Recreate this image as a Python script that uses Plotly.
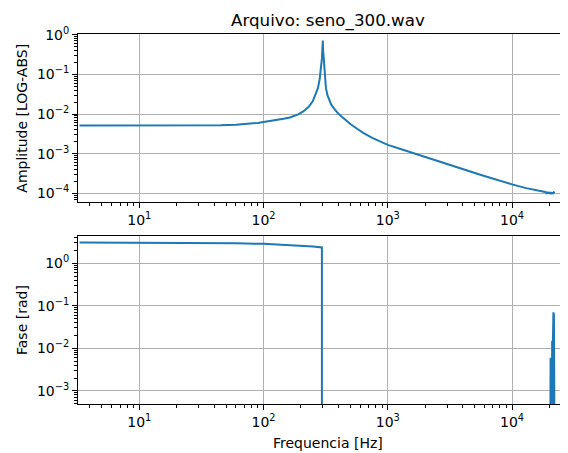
import plotly.graph_objects as go

# ---------------- data ----------------
freq_amp = [3.3, 6, 10, 20, 30, 45, 60, 75, 90, 100, 115, 130, 145, 163, 190, 209, 230, 249,
            262, 274, 283, 291, 295, 298, 300, 302, 305, 309, 313, 318, 327, 339, 350, 365,
            380, 396, 420, 440, 470, 500, 570, 640, 750, 870, 1000, 1250, 1625, 2200, 3020,
            4000, 5640, 7500, 10000, 13000, 16500, 18500, 19000, 19300, 19600, 19900, 20200,
            20500, 20800, 21100, 21400, 21700, 22050]
amplitude = [5.1e-3, 5.1e-3, 5.1e-3, 5.12e-3, 5.15e-3, 5.25e-3, 5.4e-3, 5.6e-3, 5.95e-3,
             6.3e-3, 6.7e-3, 7.1e-3, 7.6e-3, 8.2e-3, 9.8e-3, 1.16e-2, 1.5e-2, 2.1e-2,
             3.0e-2, 4.5e-2, 7.5e-2, 0.146, 0.25, 0.45, 0.72, 0.4, 0.24, 0.146, 0.08, 4.5e-2,
             3.0e-2, 2.1e-2, 1.75e-2, 1.45e-2,
             1.23e-2, 1.06e-2, 8.9e-3, 7.8e-3, 6.6e-3, 5.6e-3, 4.2e-3, 3.3e-3, 2.5e-3, 2.0e-3,
             1.67e-3, 1.33e-3, 1.03e-3, 7.6e-4, 5.4e-4,
             4.1e-4, 2.9e-4, 2.2e-4, 1.68e-4, 1.35e-4, 1.17e-4, 1.08e-4, 1.0e-4, 1.09e-4,
             9.8e-5, 1.07e-4, 9.7e-5,
             1.06e-4, 9.6e-5, 1.05e-4, 9.7e-5, 1.05e-4, 1.0e-4]

# phase: values below the visible range (drops) are kept as a tiny positive number
freq_fase = [3.3, 10, 30, 60, 100, 150, 200, 250, 295, 295, None,
             20300, 20450, 20600, 20750, 20900, 21050, 21200, 21350, 21450, 21550,
             21650, 21750, 21850, 21950, 22050]
fase = [3.05, 3.04, 3.0, 2.95, 2.85, 2.72, 2.6, 2.47, 2.35, 1e-5, None,
        1e-5, 6e-3, 1e-5, 6e-3, 1e-5, 1.5e-2, 1e-5, 1.5e-2, 1e-5, 7e-2,
        1e-5, 6.5e-2, 1e-5, 5e-2, 1e-5]

x_tickvals = [10, 100, 1000, 10000]
x_ticktext = ["10<sup>1</sup>", "10<sup>2</sup>", "10<sup>3</sup>", "10<sup>4</sup>"]
amp_tickvals = [1, 0.1, 0.01, 0.001, 0.0001]
amp_ticktext = ["10<sup>0</sup>", "10<sup>\u22121</sup>", "10<sup>\u22122</sup>",
                "10<sup>\u22123</sup>", "10<sup>\u22124</sup>"]
fase_tickvals = [1, 0.1, 0.01, 0.001]
fase_ticktext = ["10<sup>0</sup>", "10<sup>\u22121</sup>", "10<sup>\u22122</sup>",
                 "10<sup>\u22123</sup>"]

title_text = "Arquivo: seno_300.wav"
xlabel = "Frequencia [Hz]"
ylabel_top = "Amplitude [LOG-ABS]"
ylabel_bottom = "Fase [rad]"

# ---------------- figure ----------------
FONT = "DejaVu Sans"
BLUE = "#1f77b4"

fig = go.Figure()
fig.add_trace(go.Scatter(x=freq_amp, y=amplitude, mode="lines",
                         line=dict(color=BLUE, width=2), xaxis="x", yaxis="y",
                         showlegend=False))
fig.add_trace(go.Scatter(x=freq_fase, y=fase, mode="lines",
                         line=dict(color=BLUE, width=2), xaxis="x2", yaxis="y2",
                         showlegend=False, connectgaps=False))

# page body has an 8px margin: figure is drawn offset by 8px
OFF = 8
W, H = 568 - OFF, 453 - OFF
mt, ml, mr = 34 - OFF, 78 - OFF, 0
mb = H - (404 - OFF)
ph = H - mt - mb
pw = W - ml - mr


def py(pix):  # screen pixel -> paper
    return (404 - pix) / ph


def px(pix):
    return (pix - 78) / pw


common = dict(
    type="log", tickmode="array",
    ticks="outside", ticklen=5, tickwidth=1, tickcolor="black",
    showline=True, linecolor="black", linewidth=1,
    showgrid=True, gridcolor="#b0b0b0", gridwidth=1,
    minor=dict(ticks="outside", ticklen=3, tickwidth=0.8, tickcolor="black",
               dtick="D1", showgrid=False),
    tickfont=dict(family=FONT, size=14, color="black"),
    zeroline=False,
)

xrange = [0.5066, 4.4508]

fig.update_layout(
    width=W, height=H,
    margin=dict(t=mt, b=mb, l=ml, r=mr, pad=0),
    paper_bgcolor="white", plot_bgcolor="white",
    font=dict(family=FONT, color="black"),
    xaxis=dict(common, domain=[0, 1], anchor="y", range=xrange, mirror=True,
               tickvals=x_tickvals, ticktext=x_ticktext),
    yaxis=dict(common, domain=[py(202), 1], anchor="x", range=[-4.22, 0.02],
               tickvals=amp_tickvals, ticktext=amp_ticktext),
    xaxis2=dict(common, domain=[0, 1], anchor="y2", range=xrange, mirror=True,
                tickvals=x_tickvals, ticktext=x_ticktext),
    yaxis2=dict(common, domain=[0, py(236)], anchor="x2", range=[-3.31, 0.64],
                tickvals=fase_tickvals, ticktext=fase_ticktext),
    annotations=[
        dict(text=title_text, xref="paper", yref="paper", x=px(327.5), y=py(20.5),
             xanchor="center", yanchor="middle", showarrow=False,
             font=dict(family=FONT, size=16.7, color="black")),
        dict(text=xlabel, xref="paper", yref="paper", x=px(327.5), y=py(443.5),
             xanchor="center", yanchor="middle", showarrow=False,
             font=dict(family=FONT, size=14, color="black")),
        dict(text=ylabel_top, xref="paper", yref="paper", x=px(21.7), y=py(118),
             xanchor="center", yanchor="middle", showarrow=False, textangle=-90,
             font=dict(family=FONT, size=14, color="black")),
        dict(text=ylabel_bottom, xref="paper", yref="paper", x=px(22), y=py(320),
             xanchor="center", yanchor="middle", showarrow=False, textangle=-90,
             font=dict(family=FONT, size=14, color="black")),
    ],
)

fig.write_html("out.html")
